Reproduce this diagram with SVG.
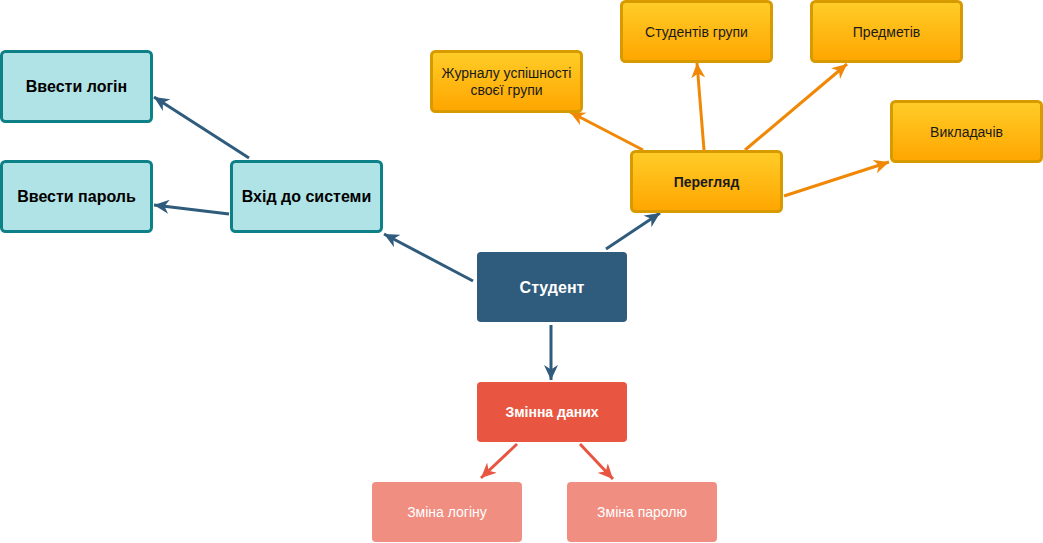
<svg xmlns="http://www.w3.org/2000/svg" width="1043" height="543" viewBox="0 0 1043 543">
<defs>
<linearGradient id="og" x1="0" y1="0" x2="0" y2="1"><stop offset="0" stop-color="#ffcd28"/><stop offset="1" stop-color="#ffa500"/></linearGradient>
<marker id="mb" markerUnits="userSpaceOnUse" markerWidth="16" markerHeight="14" refX="15" refY="7" orient="auto" viewBox="0 0 16 14"><path d="M0,0 L15,7 L0,14 L4.5,7 z" fill="#2f5b7c"/></marker>
<marker id="mo" markerUnits="userSpaceOnUse" markerWidth="16" markerHeight="14" refX="15" refY="7" orient="auto" viewBox="0 0 16 14"><path d="M0,0 L15,7 L0,14 L4.5,7 z" fill="#f08705"/></marker>
<marker id="mr" markerUnits="userSpaceOnUse" markerWidth="16" markerHeight="14" refX="15" refY="7" orient="auto" viewBox="0 0 16 14"><path d="M0,0 L15,7 L0,14 L4.5,7 z" fill="#e85642"/></marker>
</defs>
<style>
text{font-family:"Liberation Sans",Arial,sans-serif;text-anchor:middle;dominant-baseline:central}
.teal rect{fill:#b0e3e6;stroke:#0e8088;stroke-width:3}
.teal text{font-size:16px;font-weight:bold;fill:#000}
.orange rect{fill:url(#og);stroke:#d79b00;stroke-width:3}
.orange text{font-size:14px;fill:#1a1a1a}
.lb{stroke:#2f5b7c;stroke-width:3;fill:none;marker-end:url(#mb)}
.lo{stroke:#f08705;stroke-width:3;fill:none;marker-end:url(#mo)}
.lr{stroke:#e85642;stroke-width:3;fill:none;marker-end:url(#mr)}
</style>
<rect width="1043" height="543" fill="#ffffff"/>
<g id="connectors">
<line class="lb" x1="473" y1="281" x2="384" y2="234"/>
<line class="lb" x1="606" y1="249" x2="660" y2="213"/>
<line class="lb" x1="551" y1="325" x2="551" y2="380"/>
<line class="lb" x1="249" y1="158" x2="154" y2="97"/>
<line class="lb" x1="229" y1="214" x2="154" y2="205"/>
<line class="lr" x1="517" y1="444" x2="481" y2="478"/>
<line class="lr" x1="580" y1="444" x2="613" y2="479"/>
<line class="lo" x1="643" y1="150" x2="570" y2="112"/>
<line class="lo" x1="704" y1="150" x2="697" y2="63"/>
<line class="lo" x1="745" y1="150" x2="847" y2="64"/>
<line class="lo" x1="784" y1="196" x2="889" y2="162"/>
</g>
<g id="vvesty-login" class="teal"><rect x="1.5" y="51.5" width="150" height="70" rx="4"/><text x="76.5" y="86.5">Ввести логін</text></g>
<g id="vvesty-parol" class="teal"><rect x="1.5" y="161.5" width="150" height="70" rx="4"/><text x="76.5" y="196.5">Ввести пароль</text></g>
<g id="vhid" class="teal"><rect x="231.5" y="161.5" width="150" height="70" rx="4"/><text x="306.5" y="196.5">Вхід до системи</text></g>
<g id="student"><rect x="477" y="252" width="150" height="70" rx="4" fill="#2f5b7c"/><text x="552" y="287" font-size="16" font-weight="bold" fill="#ffffff">Студент</text></g>
<g id="zminna"><rect x="477" y="382" width="150" height="60" rx="4" fill="#e85642"/><text x="552" y="412" font-size="14" font-weight="bold" fill="#ffffff">Змінна даних</text></g>
<g id="zmina-login"><rect x="372" y="482" width="150" height="60" rx="4" fill="#f08e81"/><text x="447" y="512" font-size="14" fill="#ffffff">Зміна логіну</text></g>
<g id="zmina-parol"><rect x="567" y="482" width="150" height="60" rx="4" fill="#f08e81"/><text x="642" y="512" font-size="14" fill="#ffffff">Зміна паролю</text></g>
<g id="pereglyad" class="orange"><rect x="631.5" y="151.5" width="150" height="60" rx="4"/><text x="706.5" y="182" font-weight="bold" fill="#000">Перегляд</text></g>
<g id="zhurnal" class="orange"><rect x="431.5" y="51.5" width="150" height="60" rx="4"/><text x="506.5" y="73">Журналу успішності</text><text x="506.5" y="90">своєї групи</text></g>
<g id="studentiv" class="orange"><rect x="621.5" y="1.5" width="150" height="60" rx="4"/><text x="696.5" y="32">Студентів групи</text></g>
<g id="predmetiv" class="orange"><rect x="811.5" y="1.5" width="150" height="60" rx="4"/><text x="886.5" y="32">Предметів</text></g>
<g id="vykladachiv" class="orange"><rect x="891.5" y="101.5" width="150" height="60" rx="4"/><text x="966.5" y="132">Викладачів</text></g>
</svg>
